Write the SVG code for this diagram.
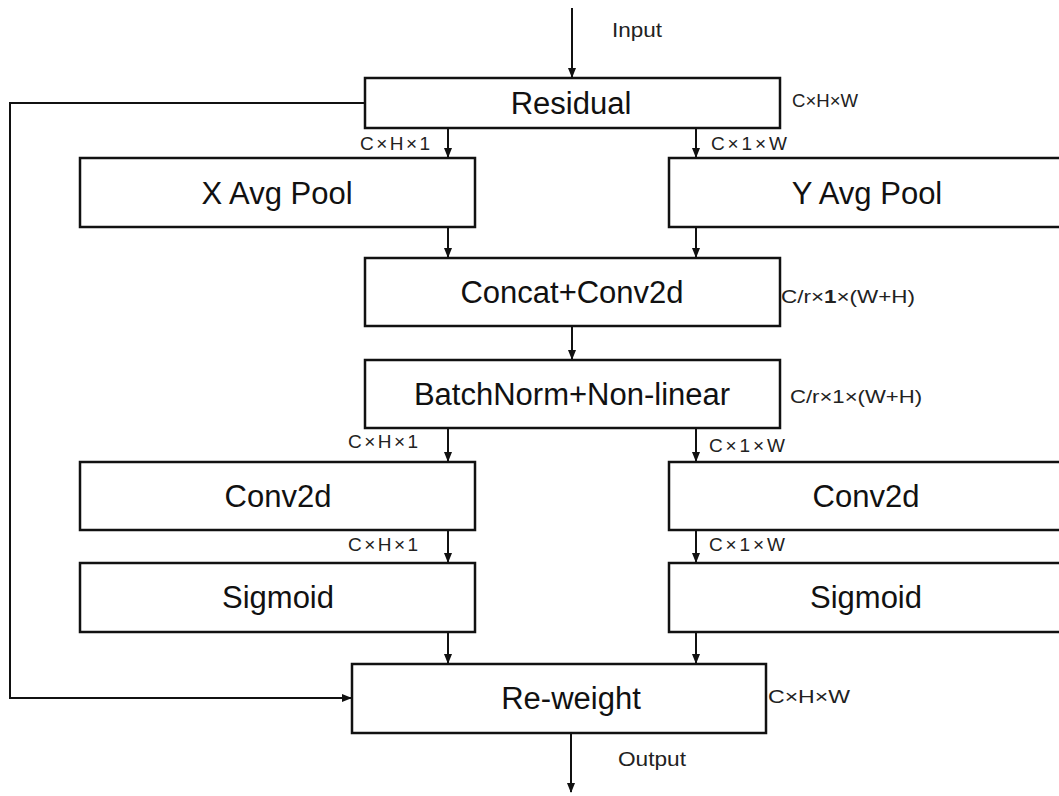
<svg xmlns="http://www.w3.org/2000/svg" width="1059" height="796" viewBox="0 0 1059 796">
<style>
.box{fill:#fff;stroke:#111;stroke-width:2.5}
.lbl{font-family:"Liberation Sans",Arial,sans-serif;font-size:31px;fill:#111;text-anchor:middle}
.dim{font-family:"Liberation Sans",Arial,sans-serif;font-size:19px;fill:#222}
.io{font-family:"Liberation Sans",Arial,sans-serif;font-size:20px;fill:#222}
.ln{fill:none;stroke:#111;stroke-width:2}
</style>
<defs>
<marker id="ah" markerWidth="10" markerHeight="10" refX="9" refY="4" orient="auto" markerUnits="userSpaceOnUse">
<path d="M0,0 L10,4 L0,8 Z" fill="#111"/>
</marker>
</defs>
<rect width="1059" height="796" fill="#fff"/>
<g id="connectors">
<line class="ln" x1="572" y1="8" x2="572" y2="77" marker-end="url(#ah)"/>
<polyline class="ln" points="365,103 10,103 10,698 351,698" marker-end="url(#ah)"/>
<line class="ln" x1="448" y1="128" x2="448" y2="157" marker-end="url(#ah)"/>
<line class="ln" x1="696" y1="128" x2="696" y2="157" marker-end="url(#ah)"/>
<line class="ln" x1="448" y1="227" x2="448" y2="257" marker-end="url(#ah)"/>
<line class="ln" x1="696" y1="227" x2="696" y2="257" marker-end="url(#ah)"/>
<line class="ln" x1="572" y1="326" x2="572" y2="359" marker-end="url(#ah)"/>
<line class="ln" x1="448" y1="428" x2="448" y2="461" marker-end="url(#ah)"/>
<line class="ln" x1="696" y1="428" x2="696" y2="461" marker-end="url(#ah)"/>
<line class="ln" x1="448" y1="530" x2="448" y2="562" marker-end="url(#ah)"/>
<line class="ln" x1="696" y1="530" x2="696" y2="562" marker-end="url(#ah)"/>
<line class="ln" x1="448" y1="632" x2="448" y2="663" marker-end="url(#ah)"/>
<line class="ln" x1="696" y1="632" x2="696" y2="663" marker-end="url(#ah)"/>
<line class="ln" x1="571" y1="733" x2="571" y2="792" marker-end="url(#ah)"/>
<text class="io" x="612" y="37" textLength="50" lengthAdjust="spacingAndGlyphs">Input</text>
<text class="io" x="618" y="766" textLength="68" lengthAdjust="spacingAndGlyphs">Output</text>
<text class="dim" x="360" y="150" textLength="70" lengthAdjust="spacing">C×H×1</text>
<text class="dim" x="711" y="150" textLength="76" lengthAdjust="spacing">C×1×W</text>
<text class="dim" x="348" y="448" textLength="70" lengthAdjust="spacing">C×H×1</text>
<text class="dim" x="709" y="452" textLength="76" lengthAdjust="spacing">C×1×W</text>
<text class="dim" x="348" y="551" textLength="70" lengthAdjust="spacing">C×H×1</text>
<text class="dim" x="709" y="551" textLength="76" lengthAdjust="spacing">C×1×W</text>
</g>
<g id="residual">
<rect class="box" x="365" y="78" width="415" height="50"/>
<text class="lbl" x="571" y="114">Residual</text>
<text class="dim" x="792" y="107" textLength="66" lengthAdjust="spacingAndGlyphs">C×H×W</text>
</g>
<g id="xpool">
<rect class="box" x="80" y="158" width="395" height="69"/>
<text class="lbl" x="277" y="204">X Avg Pool</text>
</g>
<g id="ypool">
<rect class="box" x="669" y="158" width="396" height="69"/>
<text class="lbl" x="867" y="204">Y Avg Pool</text>
</g>
<g id="concat">
<rect class="box" x="365" y="258" width="415" height="68"/>
<text class="lbl" x="572" y="303">Concat+Conv2d</text>
<text class="dim" x="781" y="303" textLength="134" lengthAdjust="spacingAndGlyphs">C/r×<tspan font-weight="bold">1</tspan>×(W+H)</text>
</g>
<g id="bnorm">
<rect class="box" x="365" y="360" width="415" height="68"/>
<text class="lbl" x="572" y="405">BatchNorm+Non-linear</text>
<text class="dim" x="790" y="403" textLength="132" lengthAdjust="spacingAndGlyphs">C/r×1×(W+H)</text>
</g>
<g id="conv-left">
<rect class="box" x="80" y="462" width="395" height="68"/>
<text class="lbl" x="278" y="507">Conv2d</text>
</g>
<g id="conv-right">
<rect class="box" x="669" y="462" width="396" height="68"/>
<text class="lbl" x="866" y="507">Conv2d</text>
</g>
<g id="sig-left">
<rect class="box" x="80" y="563" width="395" height="69"/>
<text class="lbl" x="278" y="608">Sigmoid</text>
</g>
<g id="sig-right">
<rect class="box" x="669" y="563" width="396" height="69"/>
<text class="lbl" x="866" y="608">Sigmoid</text>
</g>
<g id="reweight">
<rect class="box" x="352" y="664" width="414" height="69"/>
<text class="lbl" x="571" y="709">Re-weight</text>
<text class="dim" x="768" y="703" textLength="82" lengthAdjust="spacingAndGlyphs">C×H×W</text>
</g>
</svg>
